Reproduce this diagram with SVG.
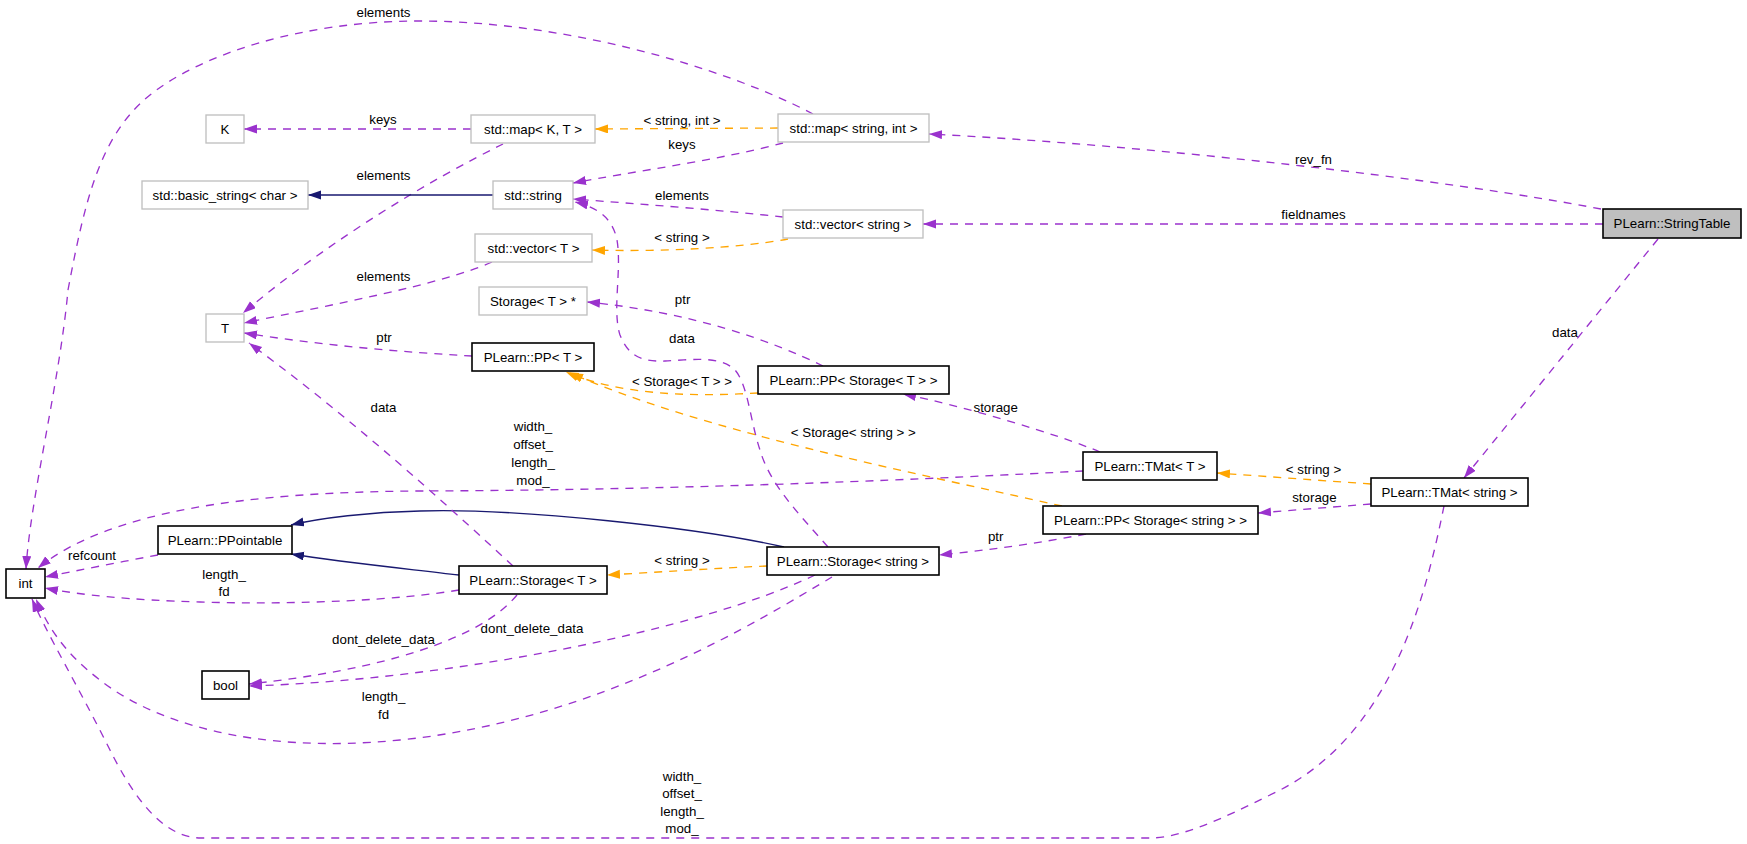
<svg xmlns="http://www.w3.org/2000/svg" width="1747" height="844" viewBox="0 0 1747 844">
<defs>
<style>
text{font-family:"Liberation Sans",Arial,Helvetica,sans-serif;font-size:13.3px;fill:#000;text-anchor:middle}
.g rect{fill:#fff;stroke:#bfbfbf;stroke-width:1.33}
.b rect{fill:#fff;stroke:#000;stroke-width:1.6}
.cur rect{fill:#bfbfbf;stroke:#000;stroke-width:1.6}
.p{fill:none;stroke:#9a32cd;stroke-width:1.33;stroke-dasharray:8,7;marker-end:url(#ap)}
.o{fill:none;stroke:#ffa500;stroke-width:1.33;stroke-dasharray:8,7;marker-end:url(#ao)}
.n{fill:none;stroke:#191970;stroke-width:1.33;marker-end:url(#an)}
</style>
<marker id="ap" markerUnits="userSpaceOnUse" markerWidth="14" markerHeight="10" refX="13" refY="4.5" orient="auto" viewBox="0 0 14 10"><path d="M0,0 L13,4.5 L0,9 z" fill="#9a32cd"/></marker>
<marker id="ao" markerUnits="userSpaceOnUse" markerWidth="14" markerHeight="10" refX="13" refY="4.5" orient="auto" viewBox="0 0 14 10"><path d="M0,0 L13,4.5 L0,9 z" fill="#ffa500"/></marker>
<marker id="an" markerUnits="userSpaceOnUse" markerWidth="14" markerHeight="10" refX="13" refY="4.5" orient="auto" viewBox="0 0 14 10"><path d="M0,0 L13,4.5 L0,9 z" fill="#191970"/></marker>
</defs>
<rect width="1747" height="844" fill="#fff"/>
<g id="edges">
<path class="p" d="M813,114 C720,65 560,21 420,21 C300,21 200,55 150,95 C100,135 85,200 68,290 C60,380 30,500 26,569"/>
<path class="p" d="M471,129 L244,129"/>
<path class="o" d="M778,128 L595,129"/>
<path class="p" d="M783,143 C720,160 630,172 573,183"/>
<path class="p" d="M503,144 C430,180 330,240 243,313"/>
<path class="n" d="M493,195 L308,195"/>
<path class="p" d="M783,217 C720,210 640,204 573,199"/>
<path class="o" d="M788,239 C740,248 660,252 592,250"/>
<path class="p" d="M492,262 C440,285 330,305 244,323"/>
<path class="p" d="M828,547 C800,515 770,485 760,450 C750,420 748,385 735,370 C720,355 690,360 665,361 C640,362 628,355 620,335 C612,310 622,270 617,240 C613,220 600,208 575,202"/>
<path class="p" d="M823,366 C770,340 690,312 587,302"/>
<path class="p" d="M472,356 C400,352 320,345 244,333"/>
<path class="o" d="M758,393 C690,397 620,395 566,372"/>
<path class="o" d="M1062,506 C900,470 700,430 570,373"/>
<path class="p" d="M1100,452 C1060,435 960,405 903,394"/>
<path class="p" d="M1083,471 C950,478 700,490 420,491 C250,492 110,510 38,568"/>
<path class="n" d="M784,547 C700,528 520,508 420,511 C370,512 320,518 291,525"/>
<path class="n" d="M459,575 C400,568 340,562 291,554"/>
<path class="p" d="M158,555 C120,562 80,570 45,577"/>
<path class="p" d="M459,590 C400,600 300,605 200,602 C130,600 80,595 45,588"/>
<path class="o" d="M767,566 C720,568 660,572 607,575"/>
<path class="p" d="M513,566 C420,480 340,410 249,343"/>
<path class="p" d="M517,595 C480,640 380,670 249,684"/>
<path class="p" d="M815,575 C700,630 450,680 249,686"/>
<path class="p" d="M832,577 C760,620 600,720 400,740 C250,755 150,720 100,680 C60,650 45,620 36,599"/>
<path class="p" d="M1444,506 C1425,600 1390,740 1270,795 C1220,820 1180,838 1150,838 L201,838 C160,838 130,790 110,750 C80,690 45,630 32,599"/>
<path class="p" d="M1601,209 C1450,180 1150,145 929,134"/>
<path class="p" d="M1603,224 L923,224"/>
<path class="p" d="M1658,239 L1464,478"/>
<path class="o" d="M1371,484 L1217,473"/>
<path class="p" d="M1371,504 L1258,513"/>
<path class="p" d="M1086,534 C1040,543 990,550 939,555"/>
<g id="edge-labels">
<text x="383.5" y="17.4">elements</text>
<text x="383" y="124">keys</text>
<text x="383.5" y="180.4">elements</text>
<text x="383.5" y="280.7">elements</text>
<text x="682" y="124.7">&lt; string, int &gt;</text>
<text x="682" y="149.4">keys</text>
<text x="682" y="200.4">elements</text>
<text x="682" y="242">&lt; string &gt;</text>
<text x="1313.5" y="163.7">rev_fn</text>
<text x="1313.5" y="218.7">fieldnames</text>
<text x="384" y="341.7">ptr</text>
<text x="383.5" y="412.4">data</text>
<text x="533" y="431.4">width_</text>
<text x="533" y="449.1">offset_</text>
<text x="533" y="466.8">length_</text>
<text x="533" y="484.5">mod_</text>
<text x="92" y="560.4">refcount</text>
<text x="224" y="579.4">length_</text>
<text x="224" y="596.4">fd</text>
<text x="682.6" y="303.7">ptr</text>
<text x="682" y="343.4">data</text>
<text x="682" y="385.7">&lt; Storage&lt; T &gt; &gt;</text>
<text x="995.7" y="411.7">storage</text>
<text x="853.3" y="437">&lt; Storage&lt; string &gt; &gt;</text>
<text x="995.7" y="541.4">ptr</text>
<text x="682" y="564.7">&lt; string &gt;</text>
<text x="1565" y="337.4">data</text>
<text x="1313.5" y="474">&lt; string &gt;</text>
<text x="1314.4" y="501.7">storage</text>
<text x="383.5" y="644">dont_delete_data</text>
<text x="532" y="633.4">dont_delete_data</text>
<text x="383.5" y="701.4">length_</text>
<text x="383.5" y="718.7">fd</text>
<text x="682" y="781.4">width_</text>
<text x="682" y="798.1">offset_</text>
<text x="682" y="815.7">length_</text>
<text x="682" y="833">mod_</text>
</g>
</g>
<g id="n_K" class="g"><rect x="206" y="115" width="38" height="28"/><text x="225" y="133.7">K</text></g>
<g id="n_mapKT" class="g"><rect x="471" y="115" width="124" height="28"/><text x="533" y="133.7">std::map&lt; K, T &gt;</text></g>
<g id="n_mapSI" class="g"><rect x="778" y="114" width="151" height="28"/><text x="853.5" y="132.7">std::map&lt; string, int &gt;</text></g>
<g id="n_basic" class="g"><rect x="142" y="181" width="166" height="28"/><text x="225" y="199.7">std::basic_string&lt; char &gt;</text></g>
<g id="n_string" class="g"><rect x="493" y="181" width="80" height="28"/><text x="533" y="199.7">std::string</text></g>
<g id="n_vecS" class="g"><rect x="783" y="210" width="140" height="28"/><text x="853" y="228.7">std::vector&lt; string &gt;</text></g>
<g id="n_vecT" class="g"><rect x="475" y="234" width="117" height="28"/><text x="533.5" y="252.7">std::vector&lt; T &gt;</text></g>
<g id="n_StringTable" class="cur"><rect x="1603" y="209" width="138" height="29"/><text x="1672" y="228.2">PLearn::StringTable</text></g>
<g id="n_StorTp" class="g"><rect x="479" y="287" width="108" height="28"/><text x="533" y="305.7">Storage&lt; T &gt; *</text></g>
<g id="n_T" class="g"><rect x="206" y="314" width="38" height="28"/><text x="225" y="332.7">T</text></g>
<g id="n_PPT" class="b"><rect x="472" y="343" width="122" height="28"/><text x="533" y="361.7">PLearn::PP&lt; T &gt;</text></g>
<g id="n_PPST" class="b"><rect x="758" y="366" width="191" height="28"/><text x="853.5" y="384.7">PLearn::PP&lt; Storage&lt; T &gt; &gt;</text></g>
<g id="n_TMatT" class="b"><rect x="1083" y="452" width="134" height="28"/><text x="1150" y="470.7">PLearn::TMat&lt; T &gt;</text></g>
<g id="n_TMatS" class="b"><rect x="1371" y="478" width="157" height="28"/><text x="1449.5" y="496.7">PLearn::TMat&lt; string &gt;</text></g>
<g id="n_PPSS" class="b"><rect x="1043" y="506" width="215" height="28"/><text x="1150.5" y="524.7">PLearn::PP&lt; Storage&lt; string &gt; &gt;</text></g>
<g id="n_PPointable" class="b"><rect x="158" y="526" width="134" height="28"/><text x="225" y="544.7">PLearn::PPointable</text></g>
<g id="n_int" class="b"><rect x="6" y="569" width="39" height="29"/><text x="25.5" y="588.2">int</text></g>
<g id="n_StorT" class="b"><rect x="459" y="566" width="148" height="28"/><text x="533" y="584.7">PLearn::Storage&lt; T &gt;</text></g>
<g id="n_StorS" class="b"><rect x="767" y="547" width="172" height="28"/><text x="853" y="565.7">PLearn::Storage&lt; string &gt;</text></g>
<g id="n_bool" class="b"><rect x="202" y="671" width="47" height="28"/><text x="225.5" y="689.7">bool</text></g>
</svg>
